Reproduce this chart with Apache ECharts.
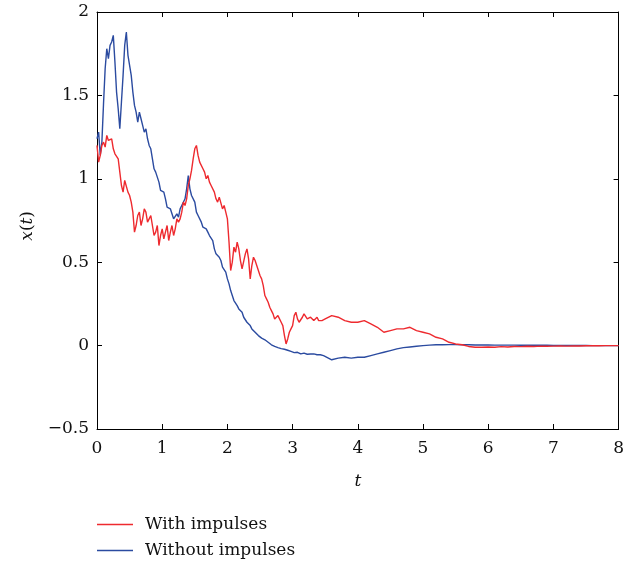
<!DOCTYPE html>
<html>
<head>
<meta charset="utf-8">
<script src="https://cdn.jsdelivr.net/npm/echarts@6/dist/echarts.min.js"></script>
<style>
html,body{margin:0;padding:0;background:#fff;}
#chart{width:627px;height:569px;}
</style>
</head>
<body>
<div id="chart"></div>
<script>
// time grid
const tValues = [
  0,0.05,0.1,0.15,0.2,0.25,0.3,0.35,0.4,0.45,0.5,0.55,0.6,0.65,0.7,0.75,0.8,0.85,0.9,0.95,
  1,1.05,1.1,1.15,1.2,1.25,1.3,1.35,1.4,1.45,1.5,1.55,1.6,1.65,1.7,1.75,1.8,1.85,1.9,1.95,
  2,2.05,2.1,2.15,2.2,2.25,2.3,2.35,2.4,2.45,2.5,2.55,2.6,2.65,2.7,2.75,2.8,2.85,2.9,2.95,
  3,3.05,3.1,3.15,3.2,3.25,3.3,3.35,3.4,3.45,3.5,
  3.6,3.7,3.8,3.9,4,4.1,4.2,4.3,4.4,4.5,4.6,4.7,4.8,4.9,5,5.1,5.2,5.3,5.4,
  5.5,5.6,5.7,5.8,5.9,6,6.1,6.2,6.3,6.4,6.5,6.6,6.7,6.8,6.9,7,7.1,7.2,7.3,7.4,7.5,7.6,7.7,7.8,7.9,8
];
// x(t) with impulses (red)
const withImpulses = [
  1.20,1.14,1.22,1.26,1.22,1.18,1.14,1.04,0.92,0.98,0.90,0.80,0.72,0.80,0.76,0.80,0.76,0.72,0.68,0.60,
  0.70,0.68,0.63,0.72,0.70,0.74,0.80,0.84,0.96,1.05,1.18,1.14,1.10,1.04,1.02,0.96,0.92,0.86,0.88,0.84,
  0.76,0.45,0.59,0.62,0.51,0.47,0.58,0.40,0.53,0.48,0.42,0.36,0.28,0.23,0.19,0.15,0.17,0.12,0.01,0.08,
  0.12,0.20,0.14,0.17,0.18,0.17,0.16,0.16,0.15,0.15,0.16,
  0.18,0.17,0.15,0.14,0.14,0.15,0.13,0.11,0.08,0.09,0.10,0.10,0.11,0.09,0.08,0.07,0.05,0.04,0.02,
  0.01,0.005,-0.005,-0.01,-0.01,-0.008,-0.01,-0.006,-0.008,-0.005,-0.006,-0.004,-0.005,-0.003,-0.004,-0.003,-0.002,-0.003,-0.002,-0.002,-0.001,-0.001,-0.001,0,0,0
];
// x(t) without impulses (blue)
const withoutImpulses = [
  1.24,1.14,1.45,1.78,1.80,1.86,1.52,1.30,1.62,1.88,1.68,1.52,1.40,1.40,1.32,1.30,1.20,1.12,1.04,0.98,
  0.92,0.88,0.82,0.79,0.76,0.77,0.84,0.88,1.02,0.90,0.86,0.78,0.74,0.70,0.68,0.67,0.58,0.54,0.51,0.46,
  0.40,0.33,0.27,0.24,0.22,0.17,0.14,0.12,0.09,0.07,0.05,0.04,0.03,0.01,0.0,-0.01,-0.015,-0.02,-0.025,-0.03,
  -0.04,-0.045,-0.045,-0.05,-0.045,-0.05,-0.055,-0.05,-0.05,-0.06,-0.065,
  -0.085,-0.075,-0.07,-0.075,-0.07,-0.07,-0.06,-0.05,-0.04,-0.03,-0.02,-0.012,-0.008,-0.004,0.0,0.003,0.005,0.005,0.006,
  0.006,0.005,0.005,0.004,0.004,0.004,0.003,0.003,0.003,0.003,0.002,0.002,0.002,0.002,0.002,0.001,0.001,0.001,0.001,0.001,0.001,0,0,0,0,0
];
// readings between the grid times (0.025 ... 3.475), showing the jagged noise band
const withImpulsesMid = [
  1.10,1.20,1.19,1.23,1.24,1.15,1.12,0.96,0.99,0.92,0.86,0.68,0.78,0.72,0.82,0.74,0.78,0.66,0.72,0.66,
  0.64,0.72,0.68,0.66,0.76,0.76,0.86,0.88,1.00,1.12,1.20,1.10,1.06,1.00,0.98,0.95,0.88,0.89,0.82,0.80,
  0.62,0.50,0.56,0.58,0.46,0.55,0.52,0.48,0.51,0.45,0.40,0.30,0.26,0.21,0.16,0.18,0.14,0.06,0.04,0.10,
  0.18,0.16,0.15,0.19,0.16,0.17,0.15,0.17,0.14,0.16
];
const withoutImpulsesMid = [
  1.28,1.22,1.66,1.72,1.82,1.70,1.42,1.46,1.80,1.74,1.62,1.44,1.34,1.36,1.28,1.24,1.18,1.06,1.03,0.93,
  0.92,0.83,0.82,0.76,0.79,0.82,0.85,0.94,0.94,0.90,0.80,0.77,0.71,0.70,0.66,0.63,0.55,0.53,0.47,0.44,
  0.37,0.30,0.26,0.22,0.20,0.16,0.13,0.10,0.08,0.06,0.045,0.035,0.02,0.005,-0.005,-0.012,-0.018,-0.022,-0.028,-0.035,
  -0.042,-0.04,-0.05,-0.045,-0.052,-0.05,-0.05,-0.055,-0.055,-0.06
];
const seriesNames = ['With impulses', 'Without impulses'];
const xTicks = [0, 8, 1];      // min, max, interval
const yTicks = [-0.5, 2, 0.5]; // min, max, interval

const FONT = 'DejaVu Serif';
const tMid = withImpulsesMid.map((_, i) => (tValues[i] + tValues[i + 1]) / 2);
function merge(main, mid) {
  const pts = tValues.map((t, i) => [t, main[i]]).concat(tMid.map((t, i) => [t, mid[i]]));
  return pts.sort((a, b) => a[0] - b[0]);
}

const chart = echarts.init(document.getElementById('chart'), null, {renderer: 'canvas'});
const axisLineStyle = {show: true, onZero: false, lineStyle: {color: '#000', width: 1}};
const tickStyle = {show: true, inside: true, length: 5, lineStyle: {color: '#000', width: 1}};
const legendCommon = {
  orient: 'vertical', left: 97, padding: 0,
  itemWidth: 36, itemHeight: 1.5, icon: 'rect',
  textStyle: {fontFamily: FONT, fontSize: 17, color: '#111', padding: [0, 0, 0, 7]}
};
chart.setOption({
  animation: false,
  backgroundColor: '#fff',
  grid: {left: 97, right: 1, top: 12, bottom: 140, containLabel: false},
  xAxis: [{
    type: 'value', min: xTicks[0], max: xTicks[1], interval: xTicks[2],
    position: 'bottom',
    axisLine: axisLineStyle, axisTick: tickStyle, splitLine: {show: false},
    axisLabel: {color: '#111', fontFamily: FONT, fontSize: 17, margin: 11},
    name: 't', nameLocation: 'middle', nameGap: 44,
    nameTextStyle: {fontFamily: FONT, fontStyle: 'italic', fontSize: 17, color: '#111'}
  }, {
    type: 'value', min: xTicks[0], max: xTicks[1], interval: xTicks[2],
    position: 'top',
    axisLine: axisLineStyle, axisTick: tickStyle, splitLine: {show: false},
    axisLabel: {show: false}
  }],
  yAxis: [{
    type: 'value', min: yTicks[0], max: yTicks[1], interval: yTicks[2],
    position: 'left',
    axisLine: axisLineStyle, axisTick: tickStyle, splitLine: {show: false},
    axisLabel: {color: '#111', fontFamily: FONT, fontSize: 17, margin: 8,
      formatter: v => String(v).replace('-', '\u2212')}
  }, {
    type: 'value', min: yTicks[0], max: yTicks[1], interval: yTicks[2],
    position: 'right',
    axisLine: axisLineStyle, axisTick: tickStyle, splitLine: {show: false},
    axisLabel: {show: false}
  }],
  legend: [
    Object.assign({top: 516, data: [seriesNames[0]]}, legendCommon),
    Object.assign({top: 542, data: [seriesNames[1]]}, legendCommon)
  ],
  graphic: [{
    type: 'text', left: 19, top: 211, rotation: Math.PI / 2,
    style: {
      text: '{i|x}({i|t})',
      font: '17px "DejaVu Serif"', fill: '#111',
      rich: {i: {fontFamily: FONT, fontStyle: 'italic', fontSize: 17, fill: '#111'}}
    }
  }],
  series: [{
    name: seriesNames[0], type: 'line', showSymbol: false, symbol: 'none',
    data: merge(withImpulses, withImpulsesMid),
    lineStyle: {color: '#ee2a2f', width: 1.4}, itemStyle: {color: '#ee2a2f'}, z: 3
  }, {
    name: seriesNames[1], type: 'line', showSymbol: false, symbol: 'none',
    data: merge(withoutImpulses, withoutImpulsesMid),
    lineStyle: {color: '#2b4ba0', width: 1.4}, itemStyle: {color: '#2b4ba0'}, z: 2
  }]
});
</script>
</body>
</html>
